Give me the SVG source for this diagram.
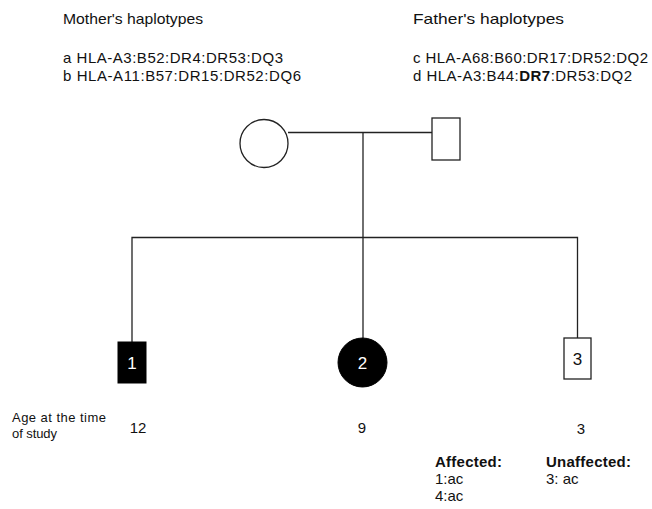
<svg xmlns="http://www.w3.org/2000/svg" width="652" height="509" viewBox="0 0 652 509">
<style>
text{font-family:"Liberation Sans",Arial,sans-serif;fill:#111}
.h{font-size:15px}
.s{font-size:13px}
.b{font-weight:bold}
.n{font-size:17px;text-anchor:middle}
.w{fill:#fff}
.age{font-size:15px;text-anchor:middle}
.ln{stroke:#222;stroke-width:1.3;fill:none}
.open{fill:#fff;stroke:#222;stroke-width:1.3}
.filled{fill:#000;stroke:#000;stroke-width:1}
</style>
<rect width="652" height="509" fill="#fff"/>
<g id="legend">
<text class="h" x="63" y="24" textLength="140" lengthAdjust="spacingAndGlyphs">Mother's haplotypes</text>
<text class="h" x="63" y="63" textLength="220">a HLA-A3:B52:DR4:DR53:DQ3</text>
<text class="h" x="63" y="81" textLength="238">b HLA-A11:B57:DR15:DR52:DQ6</text>
<text class="h" x="413" y="24" textLength="151" lengthAdjust="spacingAndGlyphs">Father's haplotypes</text>
<text class="h" x="413" y="63" textLength="235">c HLA-A68:B60:DR17:DR52:DQ2</text>
<text class="h" x="413" y="81" textLength="219">d HLA-A3:B44:<tspan class="b">DR7</tspan>:DR53:DQ2</text>
</g>
<g id="connectors">
<path class="ln" d="M288,132.5 H432"/>
<path class="ln" d="M363,132.5 V237.5"/>
<path class="ln" d="M132,342 V237.5 H577.5 V338"/>
<path class="ln" d="M363,237.5 V338"/>
</g>
<g id="mother"><circle class="open" cx="264" cy="143.5" r="24"/></g>
<g id="father"><rect class="open" x="432" y="118" width="28" height="42"/></g>
<g id="child1">
<rect class="filled" x="118" y="342" width="28" height="41"/>
<text class="n w" x="132" y="369">1</text>
</g>
<g id="child2">
<circle class="filled" cx="362.5" cy="362.5" r="24.5"/>
<text class="n w" x="362.5" y="369">2</text>
</g>
<g id="child3">
<rect class="open" x="564" y="338" width="27" height="41"/>
<text class="n" x="577.5" y="365">3</text>
</g>
<g id="ages">
<text class="s" x="12" y="422" textLength="94">Age at the  time</text>
<text class="s" x="12" y="438" textLength="45">of study</text>
<text class="age" x="138" y="433">12</text>
<text class="age" x="362" y="433">9</text>
<text class="age" x="581" y="434">3</text>
</g>
<g id="status">
<text class="h b" x="435" y="467" textLength="67">Affected:</text>
<text class="h" x="435" y="484">1:ac</text>
<text class="h" x="435" y="501">4:ac</text>
<text class="h b" x="546" y="467" textLength="85">Unaffected:</text>
<text class="h" x="546" y="484">3: ac</text>
</g>
</svg>
